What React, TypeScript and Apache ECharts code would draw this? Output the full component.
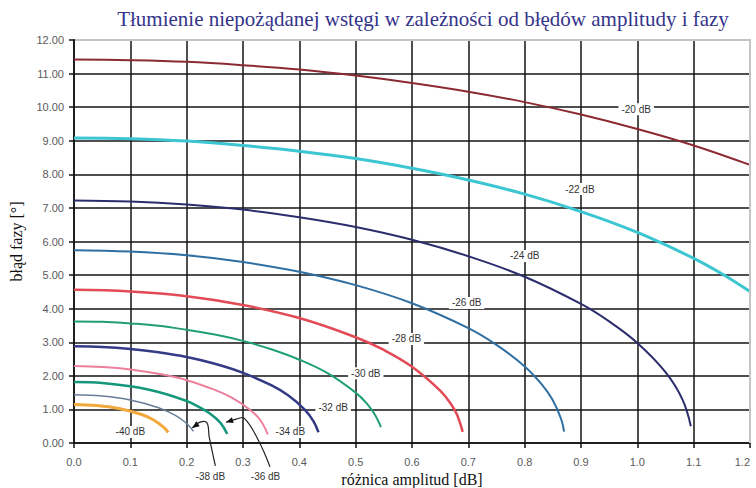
import React, { useEffect, useRef } from "react";
import * as echarts from "echarts";

const titleText = "Tłumienie niepożądanej wstęgi w zależności od błędów amplitudy i fazy";
const xName = "różnica amplitud [dB]";
const yName = "błąd fazy [°]";

// [amplitude difference dB, phase error deg]
const c20 = [[0, 11.42], [0.1, 11.4], [0.2, 11.35], [0.3, 11.25], [0.4, 11.12], [0.5, 10.94], [0.6, 10.72], [0.7, 10.46], [0.8, 10.15], [0.9, 9.78], [1.0, 9.35], [1.1, 8.86], [1.2, 8.28]];
const c22 = [[0, 9.08], [0.1, 9.06], [0.2, 8.99], [0.3, 8.86], [0.4, 8.69], [0.5, 8.47], [0.6, 8.18], [0.7, 7.83], [0.8, 7.41], [0.9, 6.89], [1.0, 6.27], [1.1, 5.5], [1.15, 5.04], [1.2, 4.51]];
const c24 = [[0, 7.22], [0.1, 7.19], [0.2, 7.1], [0.3, 6.95], [0.4, 6.72], [0.5, 6.43], [0.6, 6.05], [0.7, 5.56], [0.8, 4.95], [0.9, 4.14], [0.95, 3.62], [1.0, 2.98], [1.05, 2.11], [1.08, 1.3], [1.095, 0.5]];
const c26 = [[0, 5.74], [0.1, 5.7], [0.2, 5.59], [0.3, 5.39], [0.4, 5.1], [0.5, 4.7], [0.6, 4.16], [0.7, 3.42], [0.75, 2.92], [0.8, 2.28], [0.83, 1.75], [0.85, 1.27], [0.865, 0.7], [0.87, 0.34]];
const c28 = [[0, 4.56], [0.1, 4.51], [0.2, 4.37], [0.3, 4.11], [0.4, 3.72], [0.5, 3.15], [0.55, 2.77], [0.6, 2.27], [0.65, 1.56], [0.67, 1.14], [0.68, 0.84], [0.69, 0.33]];
const c30 = [[0, 3.62], [0.05, 3.61], [0.1, 3.56], [0.15, 3.49], [0.2, 3.37], [0.25, 3.23], [0.3, 3.04], [0.35, 2.79], [0.4, 2.48], [0.45, 2.08], [0.5, 1.5], [0.52, 1.17], [0.535, 0.82], [0.545, 0.47]];
const c32 = [[0, 2.88], [0.05, 2.86], [0.1, 2.8], [0.15, 2.7], [0.2, 2.56], [0.25, 2.36], [0.3, 2.09], [0.35, 1.72], [0.38, 1.42], [0.41, 0.99], [0.425, 0.65], [0.434, 0.32]];
const c34 = [[0, 2.29], [0.05, 2.26], [0.1, 2.19], [0.15, 2.06], [0.2, 1.87], [0.25, 1.58], [0.28, 1.35], [0.31, 1.02], [0.33, 0.7], [0.344, 0.26]];
const c36 = [[0, 1.82], [0.05, 1.79], [0.1, 1.69], [0.15, 1.52], [0.2, 1.25], [0.22, 1.09], [0.24, 0.89], [0.26, 0.6], [0.272, 0.27]];
const c38 = [[0, 1.44], [0.05, 1.4], [0.1, 1.28], [0.15, 1.05], [0.18, 0.82], [0.2, 0.58], [0.212, 0.35]];
const c40 = [[0, 1.15], [0.04, 1.12], [0.08, 1.03], [0.12, 0.85], [0.14, 0.7], [0.16, 0.46], [0.167, 0.31]];

const curveNames = ["-20 dB", "-22 dB", "-24 dB", "-26 dB", "-28 dB", "-30 dB", "-32 dB", "-34 dB", "-36 dB", "-38 dB", "-40 dB"];
const curveData = [c20, c22, c24, c26, c28, c30, c32, c34, c36, c38, c40];
const curveColors = ["#8c2a32", "#3cc6d2", "#2c2d6c", "#2f6fa2", "#e24a56", "#1f9e78", "#343a86", "#ec7f9c", "#14977a", "#687d98", "#f2a93b"];
const curveWidths = [2, 3, 2, 2, 2.5, 2, 2.5, 2, 2.5, 1.5, 3];

// label anchor positions in data coordinates
const labelPos = [[0.998, 9.94], [0.898, 7.56], [0.8, 5.57], [0.697, 4.17], [0.59, 3.1], [0.518, 2.08], [0.46, 1.07], [0.384, 0.33], [0.34, -1.0], [0.242, -1.0], [0.1, 0.33]];

// leader lines (data coordinates), last point is the arrow tip
const leader38 = [[0.251, -0.68], [0.24, 0.18], [0.236, 0.6], [0.224, 0.62], [0.21, 0.45]];
const leader36 = [[0.348, -0.71], [0.327, 0.09], [0.302, 0.74], [0.288, 0.71], [0.27, 0.62]];

const xMin = 0, xMax = 1.2, yMin = 0, yMax = 12;

export default function App() {
  const ref = useRef<HTMLDivElement>(null);
  useEffect(() => {
    if (!ref.current) return;
    const chart = echarts.init(ref.current, null, { renderer: "svg" });
    const labelFont = { color: "#5a5a5a", fontSize: 11, fontFamily: "Liberation Sans" };
    chart.setOption({
      animation: false,
      backgroundColor: "#ffffff",
      title: {
        text: titleText,
        left: 418,
        textAlign: "center",
        top: 3,
        textStyle: { color: "#35358a", fontSize: 21, fontWeight: "normal", fontFamily: "Liberation Serif" },
      },
      grid: { left: 74, right: 6, top: 40, bottom: 45, containLabel: false, outerBoundsMode: "none" },
      xAxis: {
        type: "value",
        min: xMin,
        max: xMax,
        interval: 0.1,
        name: xName,
        nameLocation: "middle",
        nameGap: 27,
        nameTextStyle: { color: "#111", fontSize: 16, fontFamily: "Liberation Serif" },
        axisLine: { show: true, lineStyle: { color: "#111", width: 1.5 } },
        axisTick: { show: true, length: 5, lineStyle: { color: "#111", width: 1.5 } },
        axisLabel: { ...labelFont, margin: 13, alignMaxLabel: "right", formatter: (v: number) => v.toFixed(1) },
        splitLine: { show: true, lineStyle: { color: "#151515", width: 1.5 } },
      },
      yAxis: {
        type: "value",
        min: yMin,
        max: yMax,
        interval: 1,
        name: yName,
        nameLocation: "middle",
        nameGap: 50,
        nameRotate: 90,
        nameTextStyle: { color: "#111", fontSize: 16, fontFamily: "Liberation Serif" },
        axisLine: { show: true, lineStyle: { color: "#111", width: 1.5 } },
        axisTick: { show: true, length: 5, lineStyle: { color: "#111", width: 1.5 } },
        axisLabel: { ...labelFont, margin: 10, formatter: (v: number) => v.toFixed(2) },
        splitLine: { show: true, lineStyle: { color: "#151515", width: 1.5 } },
      },
      series: curveData.map((d, i) => ({
        type: "line",
        name: curveNames[i],
        data: d,
        showSymbol: false,
        smooth: 0.4,
        lineStyle: { color: curveColors[i], width: curveWidths[i] },
        itemStyle: { color: curveColors[i] },
        z: 3,
      })),
    });

    const toPx = (p: number[]) => chart.convertToPixel({ gridIndex: 0 }, p) as number[];
    const graphics: any[] = [];
    // light plot-area border at top and right
    const tl = toPx([xMin, yMax]);
    const tr = toPx([xMax, yMax]);
    const br = toPx([xMax, yMin]);
    graphics.push({
      type: "polyline",
      z: 50,
      shape: { points: [[tl[0] + 1, tl[1]], tr, br] },
      style: { stroke: "#c4c4c4", lineWidth: 2, fill: null },
    });
    curveNames.forEach((name, i) => {
      const [x, y] = toPx(labelPos[i]);
      graphics.push({
        type: "text",
        x,
        y,
        z: 100,
        style: {
          text: name,
          fill: "#333",
          font: '10px "Liberation Sans"',
          align: "center",
          verticalAlign: "middle",
          backgroundColor: "#ffffff",
          padding: [1, 3],
        },
      });
    });
    [leader38, leader36].forEach((path) => {
      const pts = path.map(toPx);
      graphics.push({
        type: "polyline",
        z: 100,
        shape: { points: pts, smooth: 0.4 },
        style: { stroke: "#222", lineWidth: 1.2, fill: null },
      });
      const tip = pts[pts.length - 1];
      const prev = pts[pts.length - 2];
      const dx = tip[0] - prev[0];
      const dy = tip[1] - prev[1];
      const len = Math.hypot(dx, dy) || 1;
      const ux = dx / len, uy = dy / len;
      const bx = tip[0] - ux * 7, by = tip[1] - uy * 7;
      graphics.push({
        type: "polygon",
        z: 101,
        shape: { points: [tip, [bx - uy * 3, by + ux * 3], [bx + uy * 3, by - ux * 3]] },
        style: { fill: "#111" },
      });
    });
    chart.setOption({ graphic: graphics });
    return () => chart.dispose();
  }, []);
  return <div ref={ref} style={{ position: "fixed", left: 0, top: 0, width: 756, height: 488 }} />;
}
